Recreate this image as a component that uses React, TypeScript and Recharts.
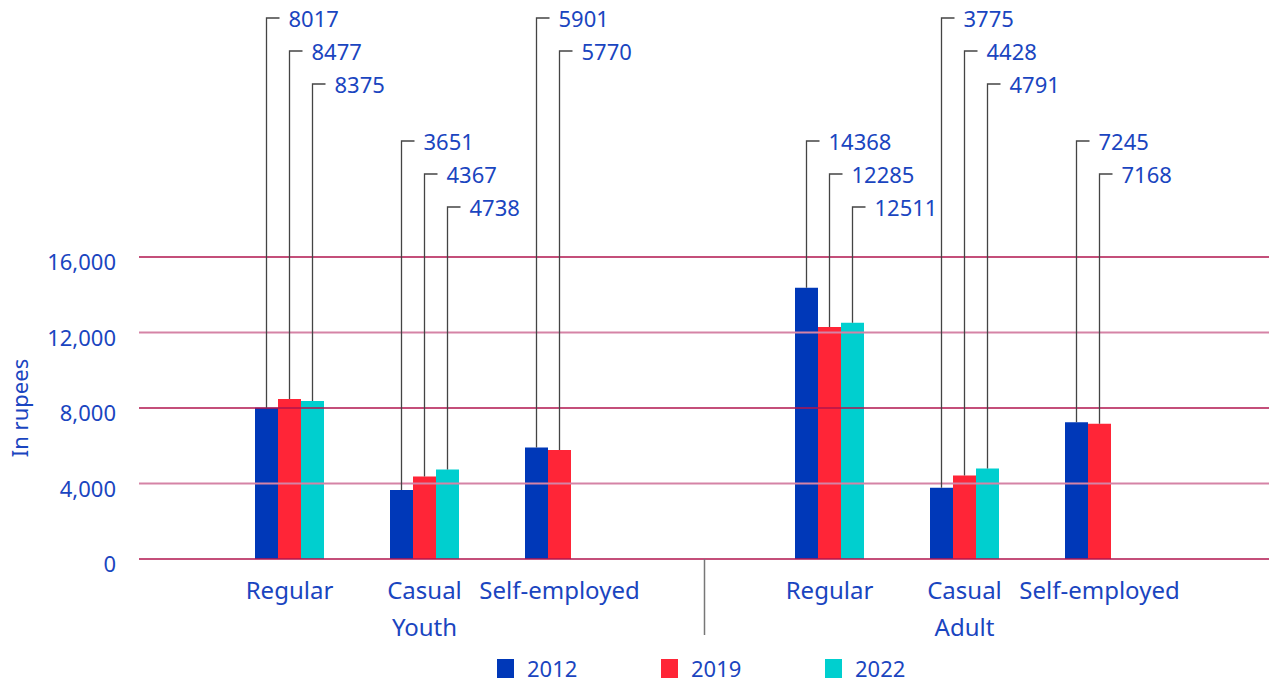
import React from 'react';
import { BarChart, Bar, XAxis, YAxis, ReferenceLine, LabelList, Label } from 'recharts';

const categories = ['Regular', 'Casual', 'Self-employed', 'Regular', 'Casual', 'Self-employed'];
const groups = ['Youth', 'Adult'];
const years = ['2012', '2019', '2022'];
const values2012 = [8017, 3651, 5901, 14368, 3775, 7245];
const values2019 = [8477, 4367, 5770, 12285, 4428, 7168];
const values2022: (number | null)[] = [8375, 4738, null, 12511, 4791, null];
const yTicks = [0, 4000, 8000, 12000, 16000];

const colors = ['#0038b8', '#ff2537', '#00cfcf'];
const gridColors = ['#b0144e', '#d583a6'];
const textBlue = '#1a45c0';
const FONT = '"Noto Sans", sans-serif';

type Row = {
  key: string;
  label: string;
  group: string;
  showGroup: boolean;
  spacer: boolean;
  k: number;
  y2012: number | null;
  y2019: number | null;
  y2022: number | null;
};

const seriesValues = [values2012, values2019, values2022];
const data: Row[] = [];
categories.forEach((c, i) => {
  const g = i < 3 ? 0 : 1;
  if (i === 3) {
    data.push({ key: 'spacer', label: '', group: '', showGroup: false, spacer: true, k: -1, y2012: null, y2019: null, y2022: null });
  }
  data.push({
    key: `${groups[g]}-${c}`,
    label: c,
    group: groups[g],
    showGroup: i % 3 === 1,
    spacer: false,
    k: i,
    y2012: seriesValues[0][i],
    y2019: seriesValues[1][i],
    y2022: seriesValues[2][i],
  });
});

const XTick = (props: any) => {
  const { x, y, payload } = props;
  const row = data[payload.index];
  if (!row) return null;
  if (row.spacer) {
    return <line x1={x + 10} x2={x + 10} y1={y} y2={y + 76} stroke="#777" strokeWidth={1.5} />;
  }
  return (
    <g>
      <text x={x} y={y + 30} textAnchor="middle" dominantBaseline="central" fill={textBlue} fontSize={24} fontFamily={FONT}>
        {row.label}
      </text>
      {row.showGroup && (
        <text x={x} y={y + 67} textAnchor="middle" dominantBaseline="central" fill={textBlue} fontSize={24} fontFamily={FONT}>
          {row.group}
        </text>
      )}
    </g>
  );
};

const makeLeader = (seriesIdx: number, key: string) => (props: any) => {
  const { x, y, width, value } = props;
  const row = value as Row | undefined;
  if (!row || row.spacer) return null;
  const v = (row as any)[key];
  if (v === null || v === undefined) return null;
  const base = row.k % 2 === 0 ? 18 : 141;
  const ty = base + seriesIdx * 33;
  const cx = x + width / 2;
  return (
    <g>
      <polyline points={`${cx},${y} ${cx},${ty} ${cx + 13},${ty}`} fill="none" stroke="#444" strokeWidth={1.3} />
      <text x={cx + 22} y={ty} dominantBaseline="central" fill={textBlue} fontSize={22} fontFamily={FONT}>
        {v}
      </text>
    </g>
  );
};

const YTitle = (props: any) => {
  const vb = props.viewBox || { x: 0, y: 257, width: 139, height: 302 };
  const cx = 19;
  const cy = vb.y + vb.height / 2;
  return (
    <text x={cx} y={cy} transform={`rotate(-90 ${cx} ${cy})`} textAnchor="middle" dominantBaseline="central" fill={textBlue} fontSize={22} fontFamily={FONT}>
      In rupees
    </text>
  );
};

const YTick = (props: any) => {
  const { x, y, payload } = props;
  return (
    <text x={x} y={y + 4} textAnchor="end" dominantBaseline="central" fill={textBlue} fontSize={22} fontFamily={FONT}>
      {Number(payload.value).toLocaleString('en-US')}
    </text>
  );
};

export default function App() {
  const keys = ['y2012', 'y2019', 'y2022'];
  return (
    <div style={{ position: 'absolute', left: 0, top: 0, width: 1269, height: 683, background: '#fff', fontFamily: FONT }}>
      <BarChart
        width={1269}
        height={683}
        data={data}
        margin={{ top: 257, right: 0, bottom: 0, left: 0 }}
        barGap={0}
        barSize={23}
      >
        <XAxis
          dataKey="key"
          type="category"
          allowDuplicatedCategory
          axisLine={false}
          tickLine={false}
          tickSize={0}
          tickMargin={0}
          height={124}
          interval={0}
          padding={{ left: 83, right: 102 }}
          tick={<XTick />}
        />
        <YAxis
          domain={[0, 16000]}
          ticks={yTicks}
          width={139}
          axisLine={false}
          tickLine={false}
          tickSize={0}
          tickMargin={23}
          tick={<YTick />}
        >
          <Label content={<YTitle />} />
        </YAxis>
        {yTicks.map((t, i) => (
          <ReferenceLine key={t} y={t} stroke={gridColors[i % 2]} strokeWidth={i % 2 === 0 ? 1.5 : 2} />
        ))}
        {keys.map((k, i) => (
          <Bar key={k} dataKey={k} name={years[i]} fill={colors[i]} isAnimationActive={false}>
            <LabelList valueAccessor={(entry: any) => entry.payload} content={makeLeader(i, k)} />
          </Bar>
        ))}
      </BarChart>
      <div style={{ position: 'absolute', left: 497, top: 656, display: 'flex' }}>
        {years.map((yr, i) => (
          <div key={yr} style={{ width: 164, display: 'flex', alignItems: 'center', height: 24 }}>
            <div style={{ width: 17, height: 19, background: colors[i], marginRight: 13 }} />
            <span style={{ color: textBlue, fontSize: 22, fontFamily: FONT, lineHeight: '24px' }}>{yr}</span>
          </div>
        ))}
      </div>
    </div>
  );
}
